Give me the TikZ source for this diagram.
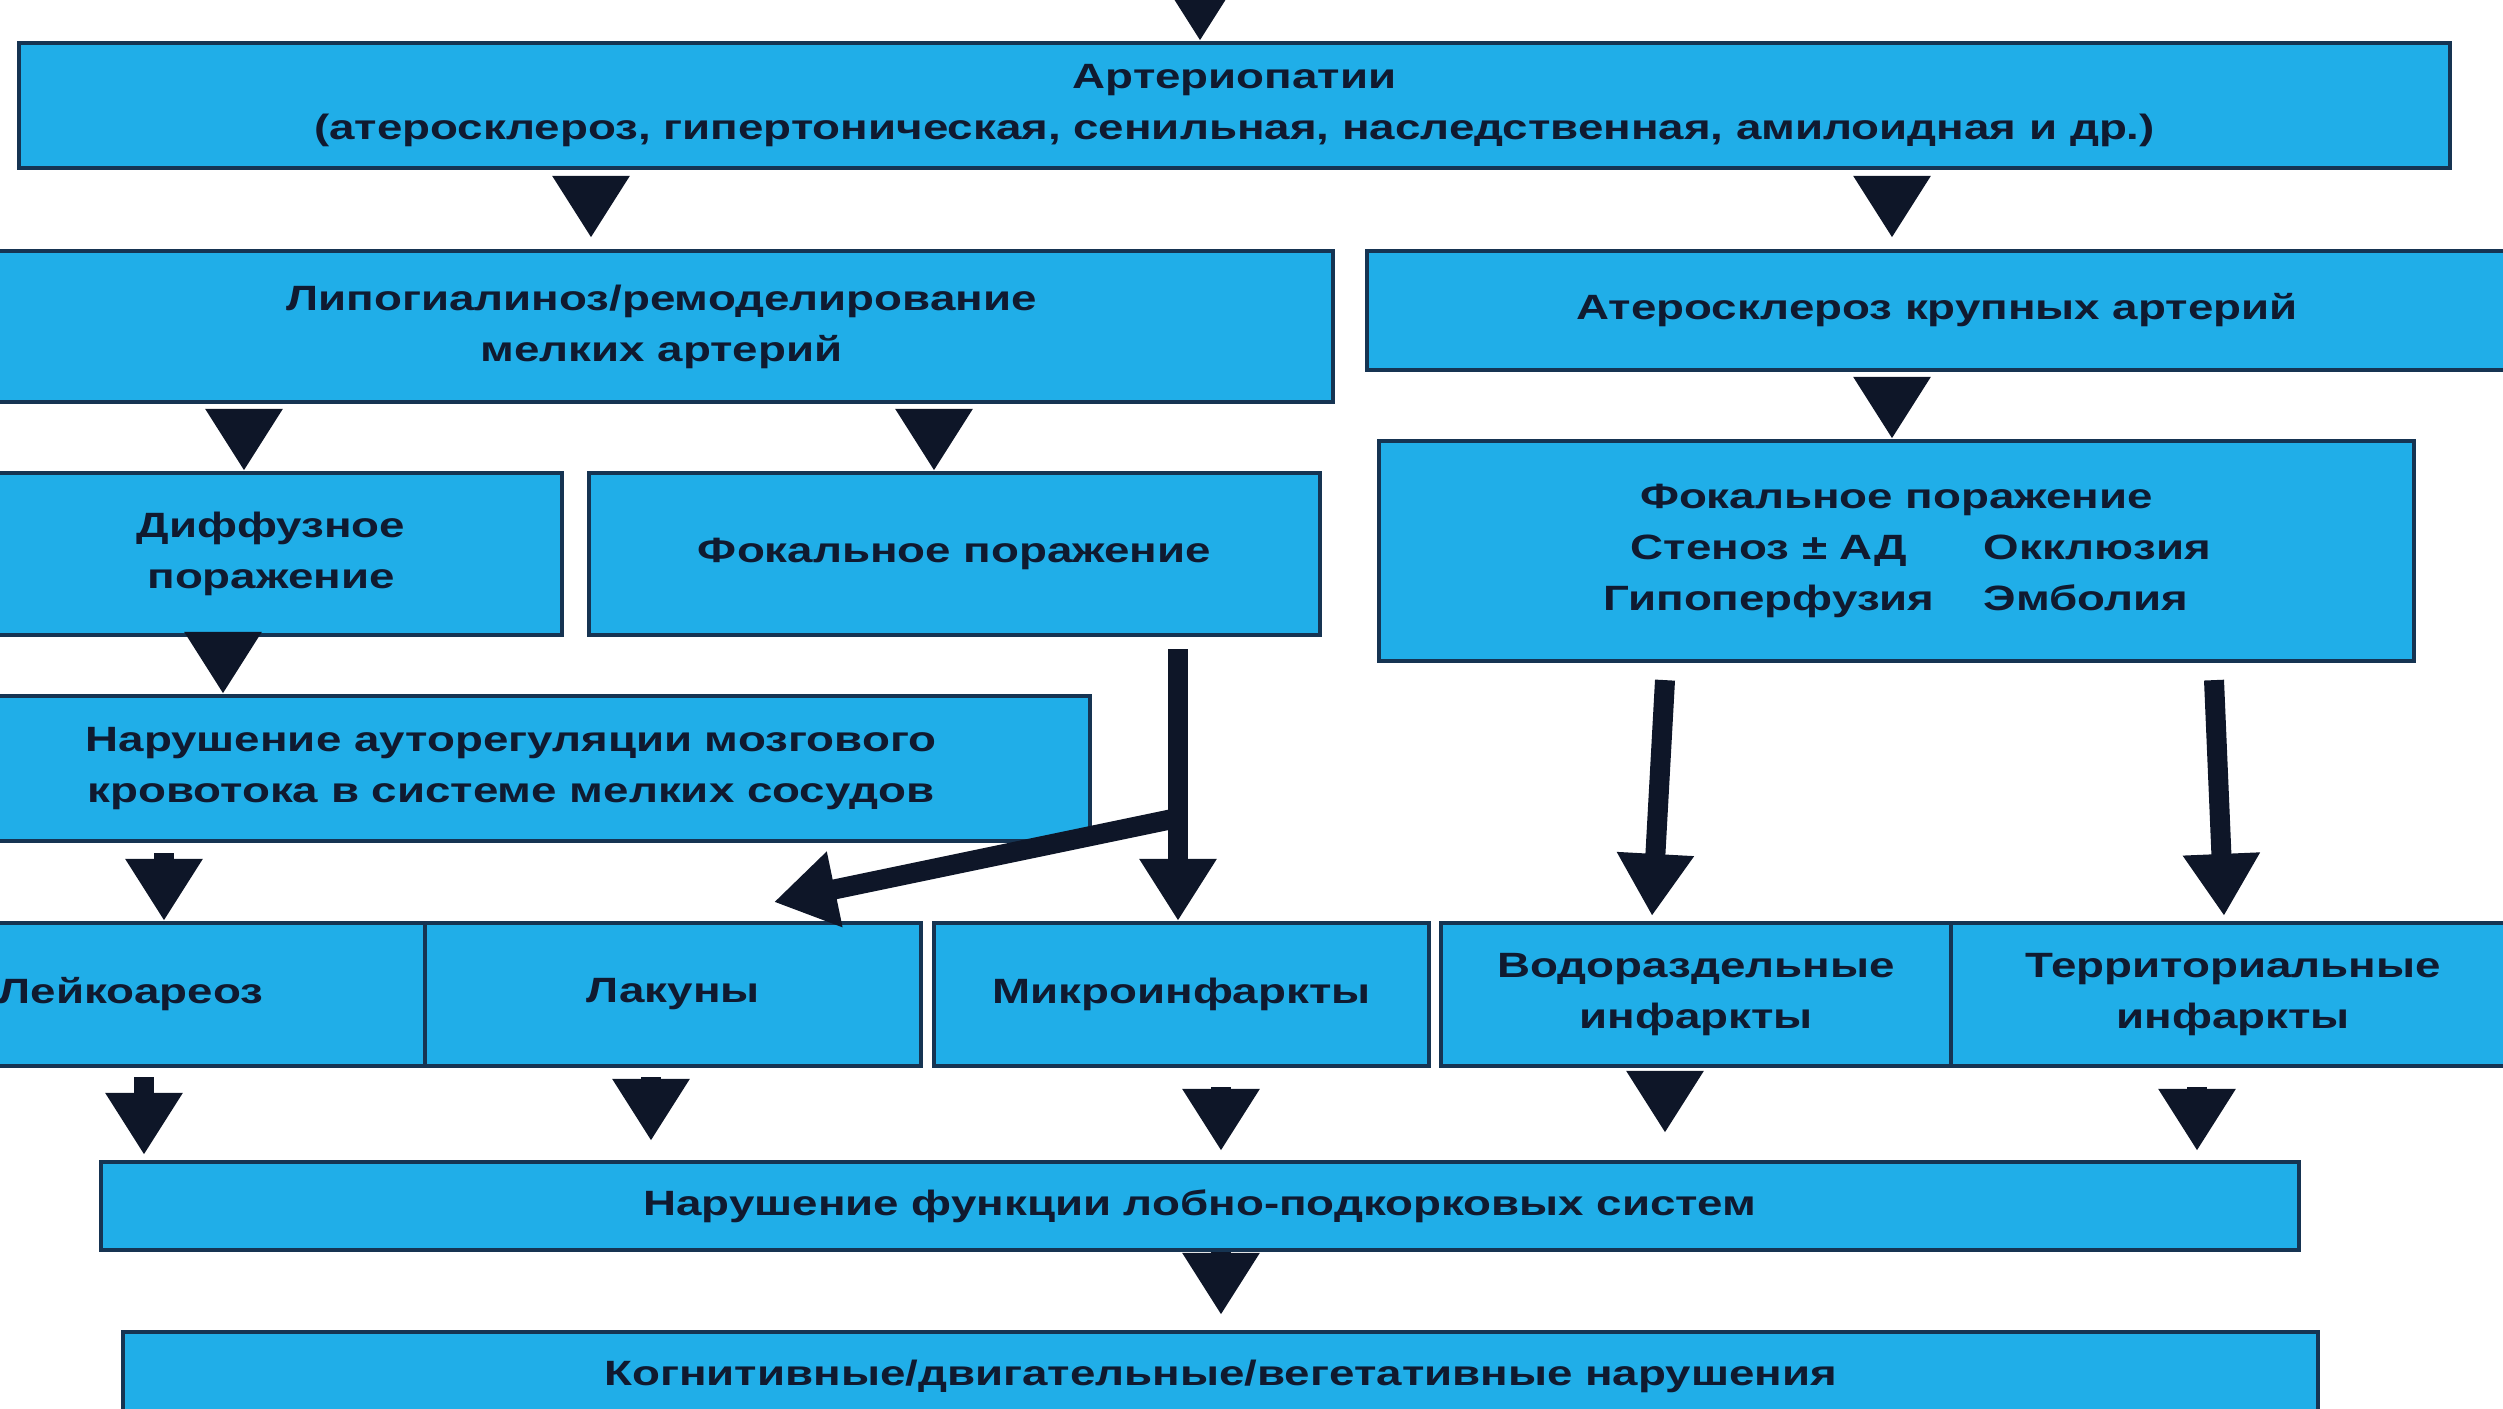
\documentclass[tikz,border=0pt]{standalone}
\usepackage{fontspec}
\setmainfont{Liberation Sans}[FakeStretch=1.3]
\usetikzlibrary{arrows.meta}

\definecolor{boxfill}{RGB}{32,174,232}
\definecolor{boxline}{RGB}{22,52,82}
\definecolor{arrowcol}{RGB}{14,22,40}
\definecolor{textcol}{RGB}{16,26,48}

\begin{document}
\begin{tikzpicture}[
    box/.style={draw=boxline,line width=1.2pt,fill=boxfill,text=textcol,align=center,
        inner sep=0pt,font=\fontsize{10}{14.5}\selectfont\bfseries},
    flow/.style={-{Triangle[length=6.2mm,width=7.3mm]},draw=arrowcol,fill=arrowcol,line width=2mm}
]
\useasboundingbox (0,0) rectangle (25.03,-14.08);
\clip (0,0) rectangle (25.03,-14.08);

% Верхний уровень
\node[box,minimum width=24.31cm,minimum height=1.25cm] (arterio) at (12.345,-1.055)
    {Артериопатии\\(атеросклероз, гипертоническая, сенильная, наследственная, амилоидная и др.)};

% Мелкие и крупные артерии
\node[box,minimum width=13.43cm,minimum height=1.51cm] (lipo) at (6.615,-3.265)
    {Липогиалиноз/ремоделирование\\мелких артерий};
\node[box,minimum width=11.40cm,minimum height=1.19cm] (athero) at (19.37,-3.105)
    {Атеросклероз крупных артерий};

% Тип поражения
\node[box,minimum width=5.82cm,minimum height=1.62cm] (diffuse) at (2.71,-5.54)
    {Диффузное\\поражение};
\node[box,minimum width=7.31cm,minimum height=1.62cm] (focsmall) at (9.545,-5.54)
    {Фокальное поражение};
\node[box,minimum width=10.35cm,minimum height=2.20cm] (foclarge) at (18.965,-5.51)
    {Фокальное поражение\\
     \makebox[4.3cm]{Стеноз ± АД}\makebox[2.55cm][l]{Окклюзия}\\
     \makebox[4.3cm]{Гипоперфузия}\makebox[2.55cm][l]{Эмболия}};

\node[box,minimum width=11.58cm,minimum height=1.45cm] (autoreg) at (5.11,-7.685)
    {Нарушение ауторегуляции мозгового\\кровотока в системе мелких сосудов};

% Ряд очаговых изменений
\node[box,minimum width=5.88cm,minimum height=1.43cm] (leuko) at (1.31,-9.945) {Лейкоареоз};
\node[box,minimum width=4.96cm,minimum height=1.43cm] (lacunes) at (6.73,-9.945) {Лакуны};
\node[box,minimum width=4.95cm,minimum height=1.43cm] (microinf) at (11.815,-9.945) {Микроинфаркты};
\node[box,minimum width=5.10cm,minimum height=1.43cm] (watershed) at (16.96,-9.945)
    {Водораздельные\\инфаркты};
\node[box,minimum width=5.64cm,minimum height=1.43cm] (territ) at (22.33,-9.945)
    {Территориальные\\инфаркты};

% Итог
\node[box,minimum width=21.98cm,minimum height=0.88cm] (fronto) at (12.00,-12.06)
    {Нарушение функции лобно-подкорковых систем};
\node[box,minimum width=21.95cm,minimum height=0.88cm] (deficit) at (12.205,-13.76)
    {Когнитивные/двигательные/вегетативные нарушения};

% Колонки стрелок
\coordinate (entry) at (12.00,0.25);
\coordinate (colL) at (5.91,0);
\coordinate (colR) at (18.92,0);
\coordinate (colD) at (2.44,0);
\coordinate (colE) at (9.34,0);
\coordinate (colG) at (2.23,0);
\coordinate (colM) at (11.78,0);
\coordinate (colH) at (1.64,0);
\coordinate (colI) at (12.21,0);

\draw[flow] (entry) -- (arterio.north -| entry);
\draw[flow,shorten <=1mm,shorten >=1.1mm] (arterio.south -| colL) -- (lipo.north -| colL);
\draw[flow,shorten <=1mm,shorten >=1.1mm] (arterio.south -| colR) -- (athero.north -| colR);
\draw[flow,shorten <=0.9mm] (lipo.south -| colD) -- (diffuse.north -| colD);
\draw[flow,shorten <=0.9mm] (lipo.south -| colE) -- (focsmall.north -| colE);
\draw[flow,shorten <=0.9mm] (athero.south -| colR) -- (foclarge.north -| colR);
\draw[flow] (diffuse.south -| colG) -- (autoreg.north -| colG);
\draw[flow,shorten <=1mm] (autoreg.south -| colH) -- (leuko.north -| colH);

% Длинная стрелка с ответвлением к лакунам
\draw[flow,shorten <=1.2mm] (focsmall.south -| colM) -- (microinf.north -| colM);
\coordinate (fork) at (11.82,-8.17);
\coordinate (lacTip) at (7.74,-9.02);
\draw[flow] (fork) -- (lacTip);

% Крупные артерии -> инфаркты
\draw[flow] ([xshift=-23.15mm,yshift=-1.7mm]foclarge.south) -- ([xshift=-4.4mm,yshift=0.5mm]watershed.north);
\draw[flow] ([xshift=31.75mm,yshift=-1.7mm]foclarge.south) -- ([xshift=-0.9mm,yshift=0.5mm]territ.north);

% К нарушению функции
\foreach \src/\x/\s/\e in {leuko/1.44/0.9/0.5, lacunes/6.51/0.9/1.9, microinf/12.21/1.9/0.9,
                           watershed/16.65/0.7/2.7, territ/21.97/1.9/0.9} {
    \coordinate (tmp) at (\x,0);
    \draw[flow,shorten <=\s mm,shorten >=\e mm] (\src.south -| tmp) -- (fronto.north -| tmp);
}
\draw[flow,shorten >=1.5mm] (fronto.south -| colI) -- (deficit.north -| colI);

\end{tikzpicture}
\end{document}
